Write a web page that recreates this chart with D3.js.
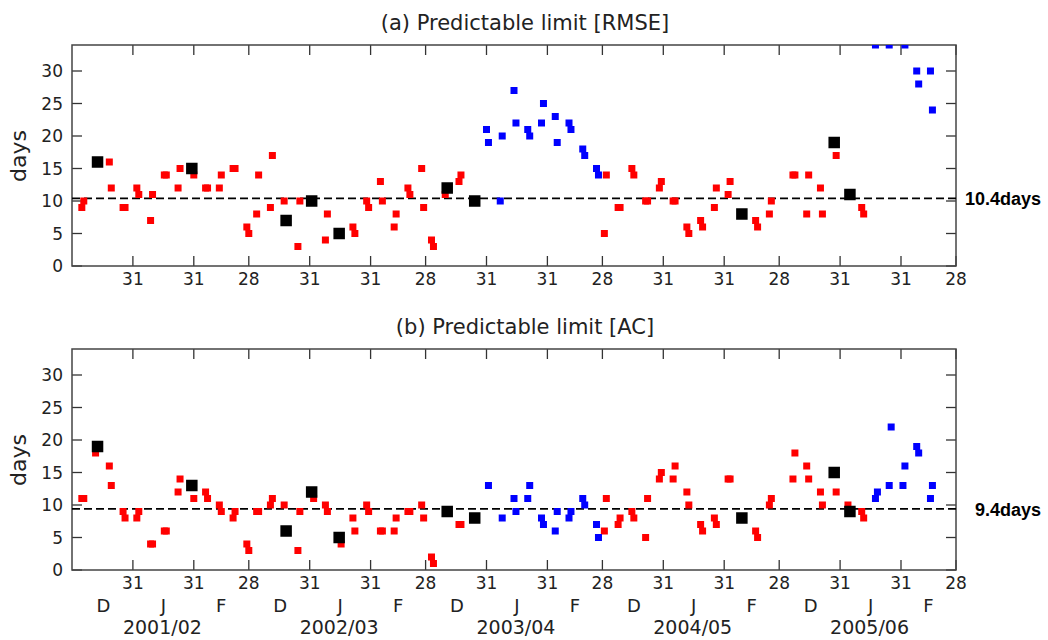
<!DOCTYPE html>
<html>
<head>
<meta charset="utf-8">
<script src="https://cdn.jsdelivr.net/npm/d3@7"></script>
<style>
  body { margin: 0; background: #fff; }
  svg { display: block; }
  text { font-family: "DejaVu Sans", sans-serif; fill: #222; }
</style>
</head>
<body>
<script>
// --- data (day index from 1 Dec of each winter, 90 days per winter) ---
const winters = ["2001/02", "2002/03", "2003/04", "2004/05", "2005/06"];
const monthLetters = ["D", "J", "F"];
const monthMid = [16, 46.5, 76];
const monthEnds = [31, 62, 90];
const monthEndLabels = ["31", "31", "28"];
const yTicks = [0, 5, 10, 15, 20, 25, 30];

// (a) RMSE
const rmseRed = [[5,9],[6,10],[19,16],[20,12],[26,9],[27,9],[33,12],[34,11],[40,7],[41,11],
  [47,14],[48,14],[54,12],[55,15],[62,14],[68,12],[69,12],[75,12],[76,14],[82,15],[83,15],
  [89,6],[90,5],[94,8],[95,14],[101,9],[102,17],[108,10],[115,3],[116,10],[129,4],[130,8],
  [143,6],[144,5],[150,10],[151,9],[157,13],[158,10],[164,6],[165,8],[171,12],[172,11],
  [178,15],[179,9],[183,4],[184,3],[190,11],[197,13],[198,14],
  [271,5],[272,14],[278,9],[279,9],[285,15],[286,14],[292,10],[293,10],[299,12],[300,13],
  [306,10],[307,10],[313,6],[314,5],[320,7],[321,6],[327,9],[328,12],[334,11],[335,13],
  [348,7],[349,6],[355,8],[356,10],[367,14],[368,14],[374,8],[375,14],[381,12],[382,8],
  [389,17],[402,9],[403,8]];
const rmseBlue = [[211,21],[212,19],[218,10],[219,20],[225,27],[226,22],[232,21],[233,20],
  [239,22],[240,25],[246,23],[247,19],[253,22],[254,21],[260,18],[261,17],[267,15],[268,14],
  [409,34],[416,34],[424,34],[430,30],[431,28],[437,30],[438,24]];
const rmseBlack = [[13,16],[61,15],[109,7],[122,10],[136,5],[191,12],[205,10],[341,8],[388,19],[396,11]];
const rmseLimit = 10.4;

// (b) AC
const acRed = [[5,11],[6,11],[12,18],[19,16],[20,13],[26,9],[27,8],[33,8],[34,9],[40,4],[41,4],
  [47,6],[48,6],[54,12],[55,14],[62,11],[68,12],[69,11],[75,10],[76,9],[82,8],[83,9],
  [89,4],[90,3],[94,9],[95,9],[101,10],[102,11],[108,10],[115,3],[116,9],[123,11],
  [129,10],[130,9],[137,4],[143,8],[144,6],[150,10],[151,9],[157,6],[158,6],[164,6],[165,8],
  [171,9],[172,9],[178,10],[179,8],[183,2],[184,1],[197,7],[198,7],
  [271,6],[272,11],[278,7],[279,8],[285,9],[286,8],[292,5],[293,11],[299,14],[300,15],
  [306,14],[307,16],[313,12],[314,10],[320,7],[321,6],[327,8],[328,7],[334,14],[335,14],
  [348,6],[349,5],[355,10],[356,11],[367,14],[368,18],[374,16],[375,14],[381,12],[382,10],
  [389,12],[395,10],[402,9],[403,8]];
const acBlue = [[212,13],[219,8],[225,11],[226,9],[232,11],[233,13],[239,8],[240,7],
  [246,6],[247,9],[253,8],[254,9],[260,11],[261,10],[267,7],[268,5],
  [409,11],[410,12],[416,13],[417,22],[423,13],[424,16],[430,19],[431,18],[437,11],[438,13]];
const acBlack = [[13,19],[61,13],[109,6],[122,12],[136,5],[191,9],[205,8],[341,8],[388,15],[396,9]];
const acLimit = 9.4;

// --- layout ---
const W = 1048, H = 640;
const svg = d3.select("body").append("svg").attr("width", W).attr("height", H);

const x = d3.scaleLinear().domain([0, 450]).range([72, 956]);
const xTickDays = [];
const xTickLabels = [];
winters.forEach((w, i) => monthEnds.forEach((d, j) => {
    xTickDays.push(i * 90 + d);
    xTickLabels.push(monthEndLabels[j]);
}));

function panel(top, title, red, blue, black, limit, showMonths) {
    const h = 221;
    const y = d3.scaleLinear().domain([0, 34]).range([top + h, top]);
    const g = svg.append("g");
    const clipId = "clip" + top;
    g.append("clipPath").attr("id", clipId)
        .append("rect").attr("x", x(0)).attr("y", top).attr("width", x(450) - x(0)).attr("height", h);

    // ticks (inward on all four sides)
    const tk = 10;
    const tickColor = "#333";
    g.selectAll(".tb").data(xTickDays).join("line")
        .attr("x1", d => x(d)).attr("x2", d => x(d))
        .attr("y1", top + h).attr("y2", top + h - tk)
        .attr("stroke", tickColor).attr("stroke-width", 1.3);
    g.selectAll(".tt").data(xTickDays).join("line")
        .attr("x1", d => x(d)).attr("x2", d => x(d))
        .attr("y1", top).attr("y2", top + tk)
        .attr("stroke", tickColor).attr("stroke-width", 1.3);
    g.selectAll(".tl").data(yTicks).join("line")
        .attr("x1", x(0)).attr("x2", x(0) + tk)
        .attr("y1", d => y(d)).attr("y2", d => y(d))
        .attr("stroke", tickColor).attr("stroke-width", 1.3);
    g.selectAll(".tr").data(yTicks).join("line")
        .attr("x1", x(450)).attr("x2", x(450) - tk)
        .attr("y1", d => y(d)).attr("y2", d => y(d))
        .attr("stroke", tickColor).attr("stroke-width", 1.3);

    // tick labels
    g.selectAll(".yl").data(yTicks).join("text")
        .attr("x", 63).attr("y", d => y(d) + 6)
        .attr("text-anchor", "end").attr("font-size", 17)
        .text(d => d);
    g.selectAll(".xl").data(xTickDays).join("text")
        .attr("x", d => x(d)).attr("y", top + h + 19)
        .attr("text-anchor", "middle").attr("font-size", 17)
        .text((d, i) => xTickLabels[i]);

    // frame
    g.append("rect").attr("x", x(0)).attr("y", top)
        .attr("width", x(450) - x(0)).attr("height", h)
        .attr("fill", "none").attr("stroke", "#444").attr("stroke-width", 1.5);

    // title and axis name
    g.append("text").attr("x", 525).attr("y", top - 15)
        .attr("text-anchor", "middle").attr("font-size", 21).text(title);
    g.append("text")
        .attr("transform", `translate(26,${top + 111}) rotate(-90)`)
        .attr("text-anchor", "middle").attr("font-size", 22).text("days");

    // limit line
    g.append("line").attr("x1", x(0)).attr("x2", x(450))
        .attr("y1", y(limit)).attr("y2", y(limit))
        .attr("stroke", "#000").attr("stroke-width", 1.6).attr("stroke-dasharray", "8,4");
    g.append("text").attr("x", 1041).attr("y", y(limit) + 7)
        .attr("text-anchor", "end").attr("font-size", 18).attr("font-weight", "bold")
        .style("font-family", "'Liberation Sans', Arial, sans-serif").style("fill", "#000")
        .text(limit + "days");

    // markers
    const pts = g.append("g").attr("clip-path", `url(#${clipId})`);
    const sq = (data, size, color) => pts.append("g").selectAll("rect").data(data).join("rect")
        .attr("x", d => x(d[0]) - size / 2).attr("y", d => y(d[1]) - size / 2)
        .attr("width", size).attr("height", size).attr("fill", color);
    sq(red, 7, "#ff0000");
    sq(blue, 7, "#0000ff");
    sq(black, 11.5, "#000");

    if (showMonths) {
        winters.forEach((w, i) => {
            monthMid.forEach((m, j) => {
                g.append("text").attr("x", x(i * 90 + m)).attr("y", top + h + 42)
                    .attr("text-anchor", "middle").attr("font-size", 18).text(monthLetters[j]);
            });
            g.append("text").attr("x", x(i * 90 + 46)).attr("y", top + h + 64)
                .attr("text-anchor", "middle").attr("font-size", 19).text(w);
        });
    }
}

panel(45, "(a) Predictable limit [RMSE]", rmseRed, rmseBlue, rmseBlack, rmseLimit, false);
panel(349, "(b) Predictable limit [AC]", acRed, acBlue, acBlack, acLimit, true);
</script>
</body>
</html>
